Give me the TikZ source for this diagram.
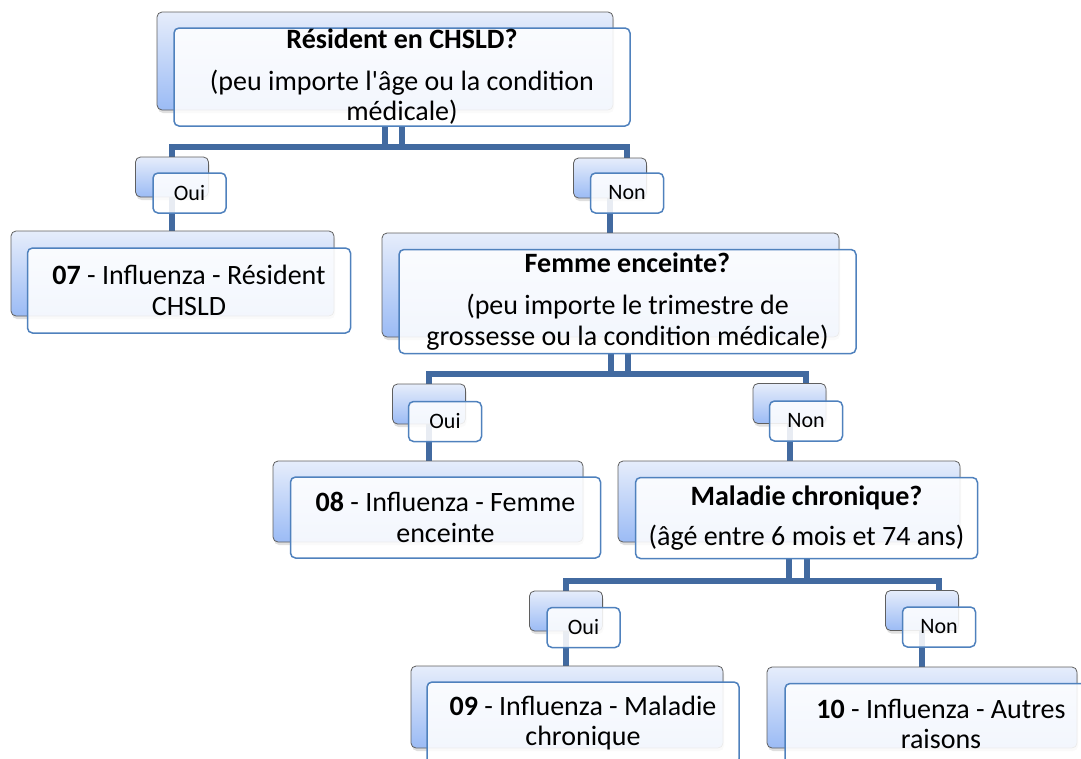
\documentclass[tikz,border=0pt]{standalone}
\usepackage{fontspec}
\setmainfont{Carlito}
\usetikzlibrary{shadows,backgrounds}

\definecolor{linkblue}{RGB}{66,106,160}
\definecolor{edgeblue}{RGB}{79,129,189}
\definecolor{shadetop}{RGB}{230,237,251}
\definecolor{shadebot}{RGB}{155,187,245}
\definecolor{shadeedge}{RGB}{95,95,95}

\begin{document}
\begin{tikzpicture}[
    x=1pt, y=-1pt,
    back/.style={draw=shadeedge, line width=0.8pt, rounded corners=5pt,
      top color=shadetop, bottom color=shadebot, inner sep=0pt,
      drop shadow={shadow xshift=1pt, shadow yshift=-3pt, opacity=0.25}},
    front/.style={draw=edgeblue, line width=1.5pt, rounded corners=5pt,
      fill=white, fill opacity=0.88, text opacity=1, inner sep=0pt},
    txt/.style={align=center, inner sep=0pt, font=\fontsize{28}{30.5}\selectfont},
    lab/.style={front, font=\fontsize{22}{24}\selectfont,
      minimum width=73pt, minimum height=40pt},
    labback/.style={back, minimum width=73pt, minimum height=40pt},
    link/.style={draw=linkblue, line width=6pt}
  ]
  \useasboundingbox (0,0) rectangle (1081,758);
  \clip (0,0) rectangle (1081,758);

  % question boxes
  \node[back, minimum width=456pt, minimum height=98pt] (b-top) at (385,61) {};
  \node[front, minimum width=456pt, minimum height=98pt] (f-top) at (402,77) {};
  \node[txt] (t-top) at (f-top) {\textbf{Résident en CHSLD?}\\[11pt](peu importe l\textquotesingle âge ou la condition\\médicale)};

  \node[back, minimum width=457pt, minimum height=104pt] (b-fem) at (610.5,285) {};
  \node[front, minimum width=457pt, minimum height=104pt] (f-fem) at (627.5,301.5) {};
  \node[txt] (t-fem) at (f-fem) {\textbf{Femme enceinte?}\\[12pt](peu importe le trimestre de\\grossesse ou la condition médicale)};

  \node[back, minimum width=342pt, minimum height=81pt] (b-mal) at (789,501.5) {};
  \node[front, minimum width=342pt, minimum height=81pt] (f-mal) at (806.5,518) {};
  \node[txt] (t-mal) at (f-mal) {\textbf{Maladie chronique?}\\[9pt](âgé entre 6 mois et 74 ans)};

  % result boxes
  \node[back, minimum width=323pt, minimum height=85pt] (b-07) at (172.5,273.5) {};
  \node[front, minimum width=323pt, minimum height=85pt] (f-07) at (189,290.5) {};
  \node[txt] (t-07) at (f-07) {\textbf{07} - Influenza - Résident\\CHSLD};

  \node[back, minimum width=310pt, minimum height=81pt] (b-08) at (428,501.5) {};
  \node[front, minimum width=310pt, minimum height=81pt] (f-08) at (445.5,517.5) {};
  \node[txt] (t-08) at (f-08) {\textbf{08} - Influenza - Femme\\enceinte};

  \node[back, minimum width=312pt, minimum height=82pt] (b-09) at (567,707) {};
  \node[front, minimum width=312pt, minimum height=82pt] (f-09) at (583,723) {};
  \node[txt] (t-09) at (f-09) {\textbf{09} - Influenza - Maladie\\chronique};

  \node[back, minimum width=310pt, minimum height=81pt] (b-10) at (922,707.5) {};
  \node[front, minimum width=312pt, minimum height=81pt] (f-10) at (941,724) {};
  \node[txt] (t-10) at (f-10) {\textbf{10} - Influenza - Autres\\raisons};

  % oui / non labels
  \node[labback] (b-oui1) at (172,177) {};
  \node[lab] (f-oui1) at (189.5,193) {Oui};
  \node[labback] (b-non1) at (610,178) {};
  \node[lab] (f-non1) at (627,193) {Non};
  \node[labback] (b-oui2) at (429,404) {};
  \node[lab] (f-oui2) at (445,421.5) {Oui};
  \node[labback] (b-non2) at (789.5,403.5) {};
  \node[lab] (f-non2) at (806,421) {Non};
  \node[labback] (b-oui3) at (566,611) {};
  \node[lab] (f-oui3) at (583.5,627.5) {Oui};
  \node[labback] (b-non3) at (922,610.5) {};
  \node[lab] (f-non3) at (939,627) {Non};

  \coordinate (bar1) at (0,147);
  \coordinate (bar2) at (0,374);
  \coordinate (bar3) at (0,581);

  \begin{pgfonlayer}{background}
    \draw[link] (b-top |- f-top.south) -- (b-top |- bar1);
    \draw[link] (f-top.south) -- (f-top |- bar1);
    \draw[link] (b-oui1.north) |- (bar1 -| f-non1) -- (f-non1 |- b-non1.north);
    \draw[link] (b-oui1.south) -- (b-oui1 |- b-07.north);
    \draw[link] (b-non1.south) -- (b-non1 |- b-fem.north);

    \draw[link] (b-fem |- f-fem.south) -- (b-fem |- bar2);
    \draw[link] (f-fem.south) -- (f-fem |- bar2);
    \draw[link] (b-oui2.north) |- (bar2 -| f-non2) -- (f-non2 |- b-non2.north);
    \draw[link] (b-oui2.south) -- (b-oui2 |- b-08.north);
    \draw[link] (b-non2.south) -- (b-non2 |- b-mal.north);

    \draw[link] (b-mal |- f-mal.south) -- (b-mal |- bar3);
    \draw[link] (f-mal.south) -- (f-mal |- bar3);
    \draw[link] (b-oui3.north) |- (bar3 -| f-non3) -- (f-non3 |- b-non3.north);
    \draw[link] (b-oui3.south) -- (b-oui3 |- b-09.north);
    \draw[link] (b-non3.south) -- (b-non3 |- b-10.north);
  \end{pgfonlayer}
\end{tikzpicture}
\end{document}
